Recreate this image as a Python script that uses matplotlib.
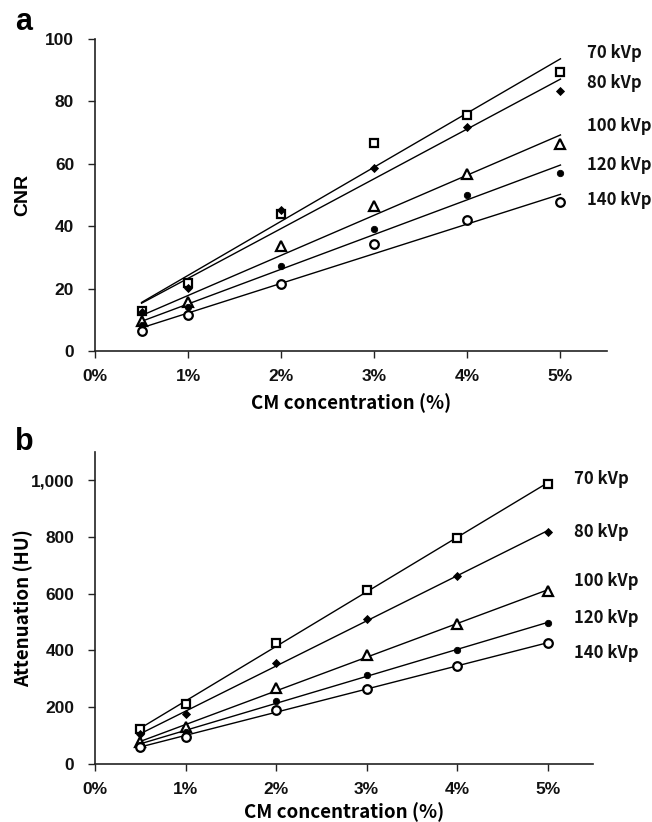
import numpy as np
import matplotlib
matplotlib.use("Agg")
import matplotlib.pyplot as plt
from matplotlib.ticker import FuncFormatter

plt.rcParams["font.family"] = ["Liberation Sans", "DejaVu Sans"]
plt.rcParams["font.weight"] = "bold"

# ---- data ----
conc = [0.5, 1, 2, 3, 4, 5]          # CM concentration (%)
series = ["70 kVp", "80 kVp", "100 kVp", "120 kVp", "140 kVp"]

cnr_70 = [12.8, 21.9, 43.9, 66.7, 75.7, 89.3]
cnr_80 = [12.5, 20.1, 45.3, 58.6, 71.7, 83.2]
cnr_100 = [9.6, 15.8, 33.8, 46.6, 56.8, 66.4]
cnr_120 = [8.3, 14.2, 27.4, 39.2, 50.1, 57.0]
cnr_140 = [6.4, 11.6, 21.5, 34.3, 42.0, 47.6]

hu_70 = [123, 210, 427, 612, 796, 987]
hu_80 = [103, 176, 356, 509, 661, 818]
hu_100 = [77, 129, 265, 383, 492, 609]
hu_120 = [67, 112, 220, 313, 401, 495]
hu_140 = [57, 95, 188, 264, 345, 424]

x_ticks = [0, 1, 2, 3, 4, 5]
cnr_ticks = [0, 20, 40, 60, 80, 100]
hu_ticks = [0, 200, 400, 600, 800, 1000]

# ---- styles ----
styles = [
    dict(marker="s", mfc="white", mec="black", ms=6.2, mew=1.6),
    dict(marker="D", mfc="black", mec="black", ms=4.2, mew=0.6),
    dict(marker="^", mfc="white", mec="black", ms=7.5, mew=1.6),
    dict(marker="o", mfc="black", mec="black", ms=4.6, mew=0.6),
    dict(marker="o", mfc="white", mec="black", ms=6.2, mew=1.6),
]

LABELFONT = ["Noto Sans CJK KR", "DejaVu Sans"]

fig = plt.figure(figsize=(6.52, 8.22), dpi=100)
ax_a = fig.add_axes([95/652, 1-351/822, 512/652, 312/822])
ax_b = fig.add_axes([95/652, 1-763.5/822, 498/652, 311.5/822])


def draw(ax, data, ylim, yticks, yfmt, label_pos, ylabel, ylabel_font):
    for vals, st, name, ly in zip(data, styles, series, label_pos):
        m, b = np.polyfit(conc, vals, 1)
        xs = np.array([conc[0], conc[-1]])
        ax.plot(xs, m * xs + b, color="black", lw=1.0, zorder=2)
        ax.plot(conc, vals, ls="none", zorder=3, **st)
        ax.text(5.29, ly, name, family=LABELFONT, weight="bold", fontsize=12,
                va="center", ha="left", clip_on=False, color="#111111")
    ax.set_xlim(0, 5.5)
    ax.set_ylim(*ylim)
    ax.set_xticks(x_ticks)
    ax.set_yticks(yticks)
    ax.xaxis.set_major_formatter(FuncFormatter(lambda v, p: f"{v:.0f}%"))
    ax.yaxis.set_major_formatter(FuncFormatter(yfmt))
    for s in ["top", "right"]:
        ax.spines[s].set_visible(False)
    for s in ["left", "bottom"]:
        ax.spines[s].set_linewidth(1.2)
        ax.spines[s].set_color("#222222")
    ax.tick_params(axis="both", direction="out", length=5, width=1.0,
                   color="#222222", labelsize=12.5, labelcolor="#111111")
    ax.tick_params(axis="y", pad=10)
    ax.tick_params(axis="x", pad=8)
    ax.set_xlabel("CM concentration (%)", family=LABELFONT, weight="bold", fontsize=13.5)
    ax.set_ylabel(ylabel, **ylabel_font)


draw(ax_a, [cnr_70, cnr_80, cnr_100, cnr_120, cnr_140], (0, 100), cnr_ticks,
     lambda v, p: f"{v:.0f}", [95.6, 86, 72, 59.7, 48.5], "CNR",
     dict(family=["Liberation Sans"], weight="bold", fontsize=14))
draw(ax_b, [hu_70, hu_80, hu_100, hu_120, hu_140], (0, 1100), hu_ticks,
     lambda v, p: f"{v:,.0f}", [1004, 816, 644, 515, 389], "Attenuation (HU)",
     dict(family=LABELFONT, weight="bold", fontsize=13.5))

ax_a.xaxis.set_label_coords(0.5, -0.135)
ax_b.xaxis.set_label_coords(0.5, -0.125)
ax_a.yaxis.set_label_coords(-0.125, 0.5)
ax_b.yaxis.set_label_coords(-0.125, 0.5)

fig.text(15/652, 1-30/822, "a", weight="bold", fontsize=22, va="baseline")
fig.text(15/652, 1-450/822, "b", weight="bold", fontsize=22, va="baseline")

fig.savefig("out.png", dpi=100, facecolor="white")
